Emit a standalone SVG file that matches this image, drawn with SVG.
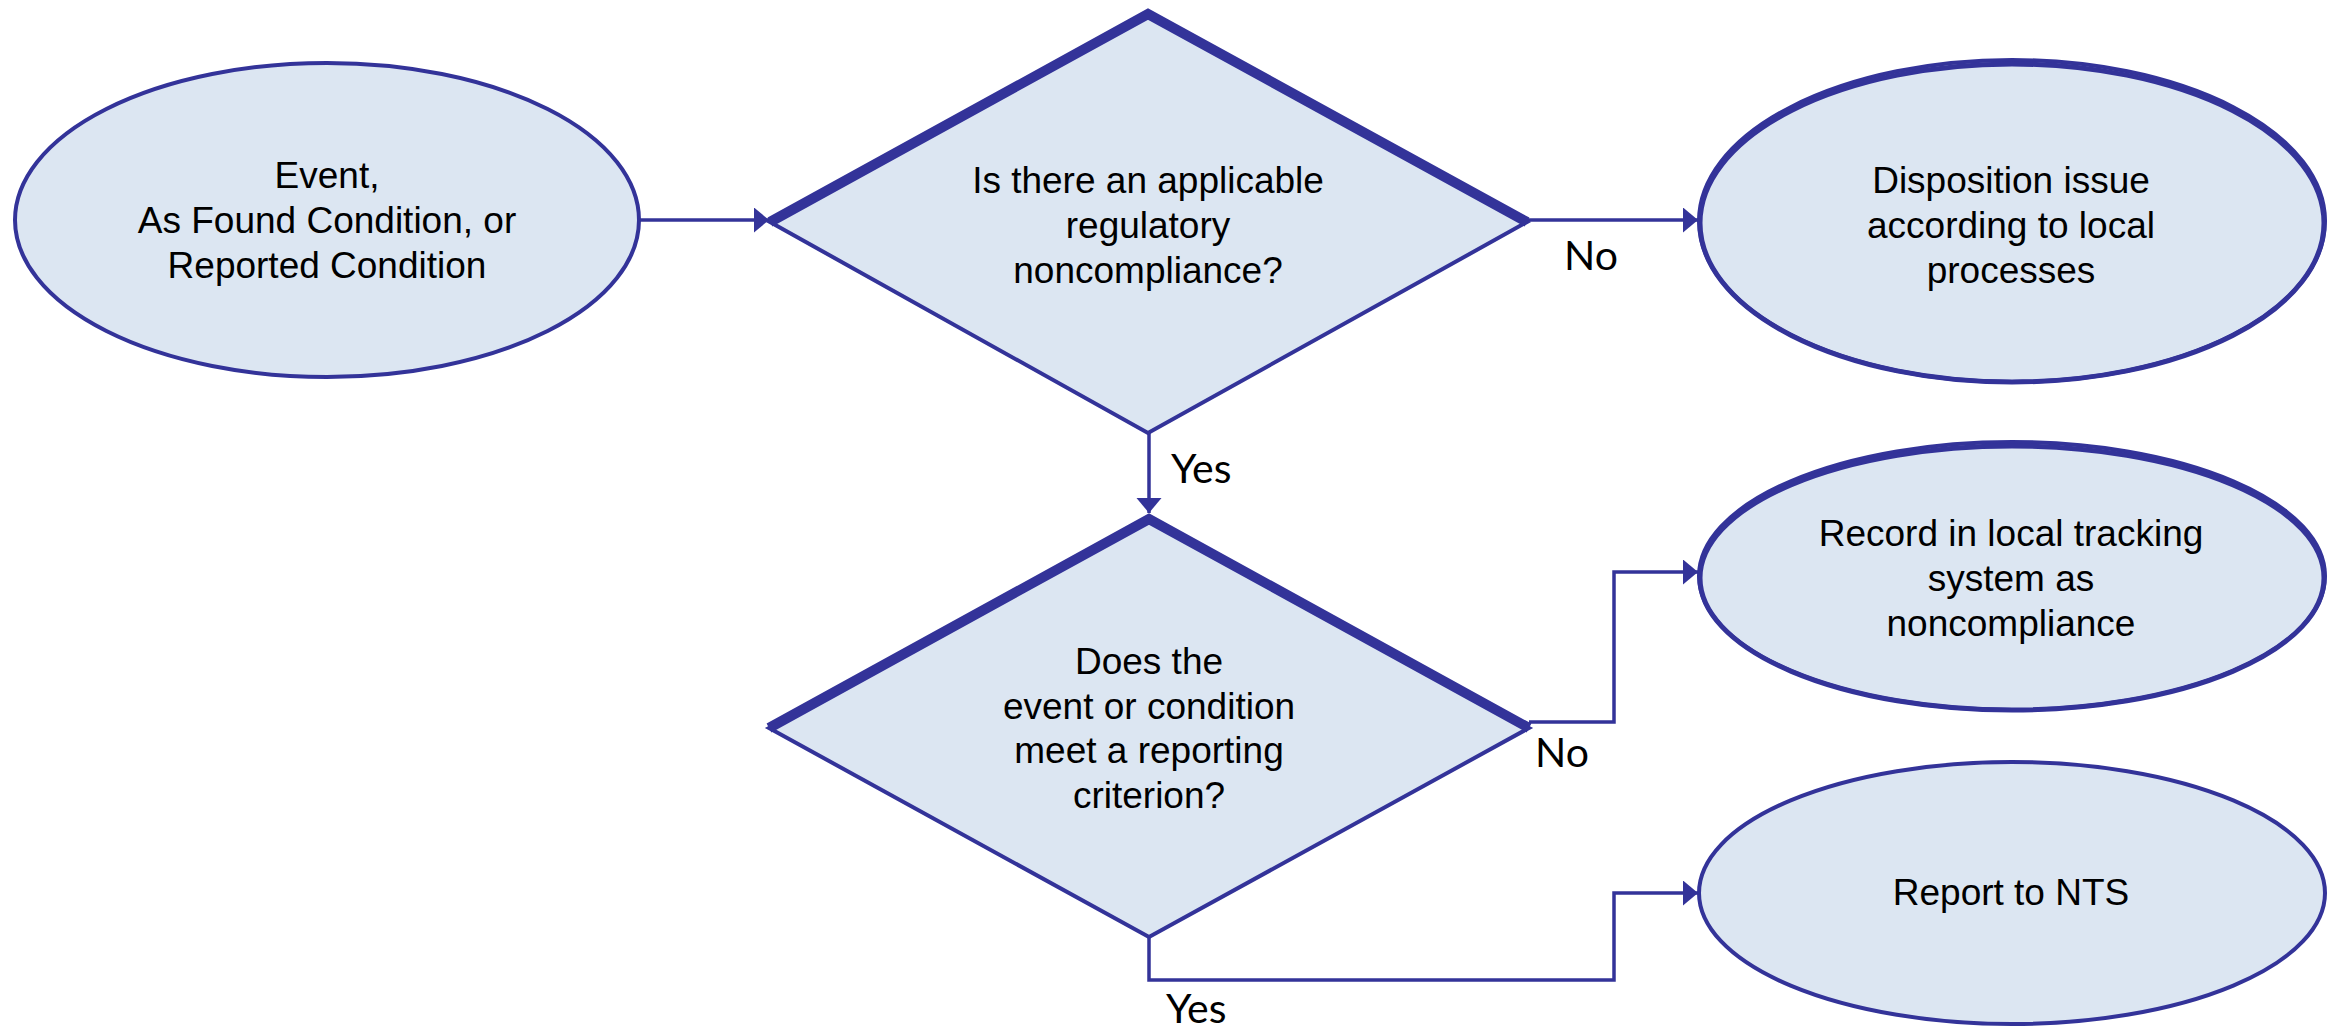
<svg xmlns="http://www.w3.org/2000/svg" width="2341" height="1028" viewBox="0 0 2341 1028">
<style>
.node{fill:#DCE6F2;stroke:#333399;stroke-width:4}
.thick{fill:none;stroke:#333399;stroke-width:10;stroke-linejoin:miter}
.inner{fill:none;stroke:#333399;stroke-width:5}
.t{font-family:"Liberation Sans",Arial,sans-serif;font-size:37px;fill:#000;text-anchor:middle}
.lbl{font-family:Lato,"Open Sans",sans-serif;font-size:41px;fill:#000}
.conn{fill:none;stroke:#333399;stroke-width:3.5}
</style>
<defs>
<marker id="arr" markerUnits="userSpaceOnUse" markerWidth="16" markerHeight="26" refX="15" refY="12.5" orient="auto">
<path d="M0,0 L15,12.5 L0,25 Z" fill="#333399"/>
</marker>
</defs>
<rect width="2341" height="1028" fill="#fff"/>
<g id="connectors">
<path class="conn" d="M639,220 H769" marker-end="url(#arr)"/>
<path class="conn" d="M1527,220 H1698" marker-end="url(#arr)"/>
<path class="conn" d="M1149,433 V513" marker-end="url(#arr)"/>
<path class="conn" d="M1529,722 H1614 V572 H1698" marker-end="url(#arr)"/>
<path class="conn" d="M1149,937 V980 H1614 V893 H1698" marker-end="url(#arr)"/>
<text class="lbl" x="1564" y="270">No</text>
<text class="lbl" x="1171" y="483">Yes</text>
<text class="lbl" x="1535" y="767">No</text>
<text class="lbl" x="1166" y="1023">Yes</text>
</g>
<g id="start">
<ellipse class="node" cx="327" cy="220" rx="312" ry="157"/>
<text class="t" x="327" y="188">Event,</text>
<text class="t" x="327" y="233">As Found Condition, or</text>
<text class="t" x="327" y="278">Reported Condition</text>
</g>
<g id="decision1">
<polygon class="node" points="770,222 1148,14 1527,222 1148,433"/>
<polyline class="thick" points="770,222 1148,14 1527,222"/>
<text class="t" x="1148" y="193">Is there an applicable</text>
<text class="t" x="1148" y="238">regulatory</text>
<text class="t" x="1148" y="283">noncompliance?</text>
</g>
<g id="disposition">
<ellipse class="node" cx="2012" cy="221" rx="313" ry="161"/>
<ellipse class="inner" cx="2012" cy="223" rx="312" ry="159"/>
<text class="t" x="2011" y="193">Disposition issue</text>
<text class="t" x="2011" y="238">according to local</text>
<text class="t" x="2011" y="283">processes</text>
</g>
<g id="decision2">
<polygon class="node" points="769,728 1149,519 1529,728 1149,937"/>
<polyline class="thick" points="769,728 1149,519 1529,728"/>
<text class="t" x="1149" y="674">Does the</text>
<text class="t" x="1149" y="719">event or condition</text>
<text class="t" x="1149" y="763">meet a reporting</text>
<text class="t" x="1149" y="808">criterion?</text>
</g>
<g id="record">
<ellipse class="node" cx="2012" cy="576" rx="313" ry="134"/>
<ellipse class="inner" cx="2012" cy="578" rx="312" ry="132"/>
<text class="t" x="2011" y="546">Record in local tracking</text>
<text class="t" x="2011" y="591">system as</text>
<text class="t" x="2011" y="636">noncompliance</text>
</g>
<g id="report">
<ellipse class="node" cx="2012" cy="893" rx="313" ry="131"/>
<text class="t" x="2011" y="905">Report to NTS</text>
</g>
</svg>
